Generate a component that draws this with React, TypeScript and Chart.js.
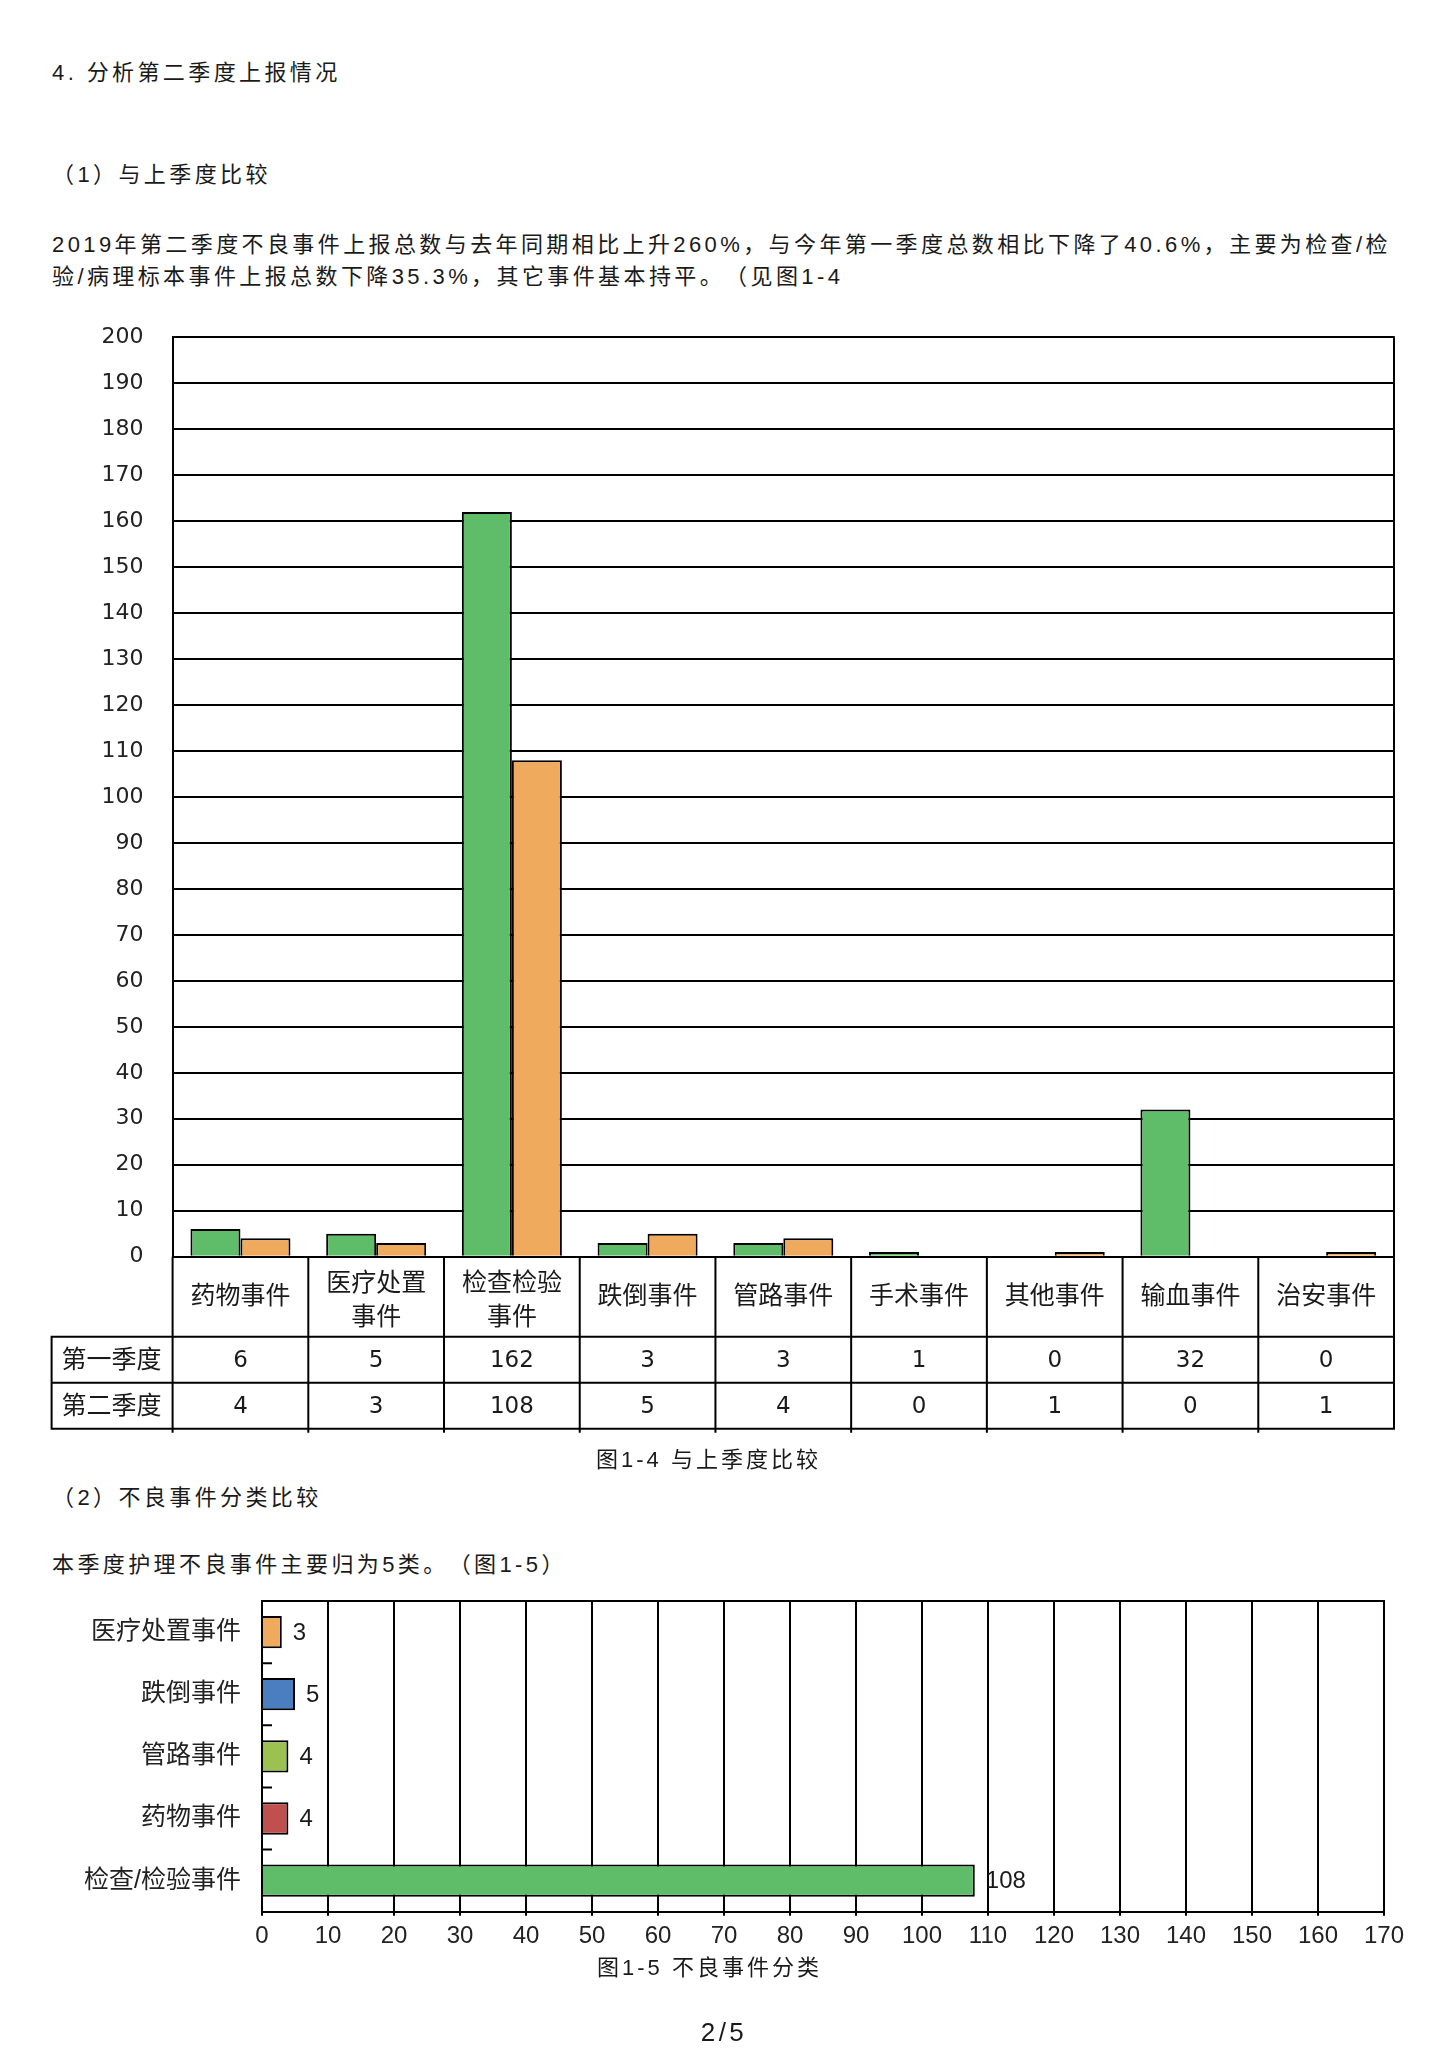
import React, { useEffect, useRef } from 'react';
import { Chart, registerables } from 'chart.js';

Chart.register(...registerables);

// ---------- data ----------
const categories = ['药物事件', '医疗处置事件', '检查检验事件', '跌倒事件', '管路事件', '手术事件', '其他事件', '输血事件', '治安事件'];
const seriesNames = ['第一季度', '第二季度'];
const q1Values = [6, 5, 162, 3, 3, 1, 0, 32, 0];
const q2Values = [4, 3, 108, 5, 4, 0, 1, 0, 1];
const seriesColors = ['#5FBD6A', '#F0AA5E'];
const yMin = 0;
const yMax = 200;
const yStep = 10;

const typeCategories = ['医疗处置事件', '跌倒事件', '管路事件', '药物事件', '检查/检验事件'];
const typeValues = [3, 5, 4, 4, 108];
const typeColors = ['#F0AA5E', '#4A7EC0', '#9BC150', '#C0504D', '#5FBD6A'];
const xMin = 0;
const xMax = 170;
const xStep = 10;

// ---------- style ----------
const FONT = '"Liberation Sans", "Noto Sans CJK SC", sans-serif';
const NUM_FONT = '"DejaVu Sans", "Noto Sans CJK SC", sans-serif';
const TEXT = '#1a1a1a';
const HEADER_H = 80;
const ROW_H = 46;
const ROW_LABEL_W = 121;

function wrapLabel(ctx: CanvasRenderingContext2D, text: string, maxW: number): string[] {
  const lines: string[] = [];
  let cur = '';
  for (const ch of Array.from(text)) {
    if (cur && ctx.measureText(cur + ch).width > maxW) {
      lines.push(cur);
      cur = ch;
    } else {
      cur += ch;
    }
  }
  if (cur) lines.push(cur);
  return lines;
}

const tablePlugin = {
  id: 'dataTable',
  afterDraw(chart: any) {
    const { ctx, chartArea: ca, scales } = chart;
    const xs = scales.x;
    const n = categories.length;
    const colW = (ca.right - ca.left) / n;
    const top = ca.bottom;
    const hdrB = top + HEADER_H;
    const r1B = hdrB + ROW_H;
    const r2B = r1B + ROW_H;
    const rowLeft = ca.left - ROW_LABEL_W;
    ctx.save();
    ctx.strokeStyle = '#000';
    ctx.lineWidth = 2;
    ctx.beginPath();
    for (let i = 0; i <= n; i++) {
      const xx = i < n ? xs.getPixelForValue(i) - colW / 2 : xs.getPixelForValue(n - 1) + colW / 2;
      ctx.moveTo(xx, i === n ? ca.top - 1 : top);
      ctx.lineTo(xx, r2B + (i < n ? 4 : 1));
    }
    ctx.moveTo(rowLeft, hdrB);
    ctx.lineTo(rowLeft, r2B + 1);
    for (const yy of [hdrB, r1B, r2B]) {
      ctx.moveTo(rowLeft - 1, yy);
      ctx.lineTo(ca.right + 1, yy);
    }
    ctx.stroke();

    ctx.fillStyle = TEXT;
    ctx.textBaseline = 'middle';
    categories.forEach((c, i) => {
      const cx = xs.getPixelForValue(i);
      ctx.font = `25px ${FONT}`;
      ctx.textAlign = 'center';
      const lines = wrapLabel(ctx, c, colW - 20);
      const lh = 34;
      const y0 = (top + hdrB) / 2 + (lines.length > 1 ? 4 : 0) - ((lines.length - 1) * lh) / 2;
      lines.forEach((ln, k) => ctx.fillText(ln, cx, y0 + k * lh));
      ctx.font = `23px ${NUM_FONT}`;
      ctx.fillText(String(q1Values[i]), cx, (hdrB + r1B) / 2 + 1);
      ctx.fillText(String(q2Values[i]), cx, (r1B + r2B) / 2 + 1);
    });
    ctx.font = `25px ${FONT}`;
    ctx.textAlign = 'left';
    ctx.fillText(seriesNames[0], rowLeft + 10, (hdrB + r1B) / 2 + 1);
    ctx.fillText(seriesNames[1], rowLeft + 10, (r1B + r2B) / 2 + 1);
    ctx.restore();
  },
};

const hbarPlugin = {
  id: 'hbarExtras',
  afterDraw(chart: any) {
    const { ctx, chartArea: ca, scales } = chart;
    const ys = scales.y;
    ctx.save();
    ctx.strokeStyle = '#000';
    ctx.lineWidth = 2;
    ctx.beginPath();
    ctx.moveTo(ca.left - 1, ca.top);
    ctx.lineTo(ca.right + 1, ca.top);
    for (let i = 0; i < typeCategories.length - 1; i++) {
      const yy = (ys.getPixelForValue(i) + ys.getPixelForValue(i + 1)) / 2;
      ctx.moveTo(ca.left, yy);
      ctx.lineTo(ca.left + 10, yy);
    }
    ctx.stroke();
    const meta = chart.getDatasetMeta(0);
    ctx.fillStyle = TEXT;
    ctx.font = `24px ${FONT}`;
    ctx.textAlign = 'left';
    ctx.textBaseline = 'middle';
    meta.data.forEach((el: any, i: number) => {
      ctx.fillText(String(typeValues[i]), el.x + 11, el.y + 1);
    });
    ctx.restore();
  },
};

function ComparisonChart() {
  const ref = useRef<HTMLCanvasElement | null>(null);
  useEffect(() => {
    if (!ref.current) return;
    const chart = new Chart(ref.current, {
      type: 'bar',
      data: {
        labels: categories,
        datasets: [
          { label: seriesNames[0], data: q1Values, backgroundColor: seriesColors[0], borderColor: '#000', borderWidth: 2, categoryPercentage: 0.737, barPercentage: 1 },
          { label: seriesNames[1], data: q2Values, backgroundColor: seriesColors[1], borderColor: '#000', borderWidth: 2, categoryPercentage: 0.737, barPercentage: 1 },
        ],
      },
      options: {
        responsive: false,
        animation: false,
        layout: { padding: { top: 22, right: 56, bottom: 203.3, left: 0 } },
        plugins: { legend: { display: false }, tooltip: { enabled: false } },
        scales: {
          x: { display: false },
          y: {
            min: yMin,
            max: yMax,
            ticks: { stepSize: yStep, padding: 29, color: '#222', font: { size: 22, family: NUM_FONT } },
            grid: { color: '#000', lineWidth: 2, drawTicks: false },
            border: { display: true, color: '#000', width: 2 },
            afterFit: (s: any) => { s.width = 172.6; },
          },
        },
      },
      plugins: [tablePlugin],
    } as any);
    return () => chart.destroy();
  }, []);
  return <canvas ref={ref} width={1450} height={1165} style={{ position: 'absolute', left: 0, top: 295 }} />;
}

function TypeChart() {
  const ref = useRef<HTMLCanvasElement | null>(null);
  useEffect(() => {
    if (!ref.current) return;
    const chart = new Chart(ref.current, {
      type: 'bar',
      data: {
        labels: typeCategories,
        datasets: [
          { data: typeValues, backgroundColor: typeColors, borderColor: '#000', borderWidth: 2, categoryPercentage: 0.52, barPercentage: 1 },
        ],
      },
      options: {
        indexAxis: 'y',
        responsive: false,
        animation: false,
        layout: { padding: { top: 14, right: 66, bottom: 18.3, left: 0 } },
        plugins: { legend: { display: false }, tooltip: { enabled: false } },
        scales: {
          x: {
            min: xMin,
            max: xMax,
            ticks: { stepSize: xStep, padding: 6, color: '#222', font: { size: 24, family: FONT } },
            grid: { color: '#000', lineWidth: 2, tickLength: 4, drawTicks: true },
            border: { display: true, color: '#000', width: 2 },
            afterFit: (s: any) => { s.height = 40; },
          },
          y: {
            grid: { display: false, drawTicks: false },
            border: { display: true, color: '#000', width: 2 },
            ticks: { padding: 21, color: '#222', font: { size: 25, family: FONT } },
            afterFit: (s: any) => { s.width = 262; },
          },
        },
      },
      plugins: [hbarPlugin],
    } as any);
    return () => chart.destroy();
  }, []);
  return <canvas ref={ref} width={1450} height={405} style={{ position: 'absolute', left: 0, top: 1565 }} />;
}

const textStyle: React.CSSProperties = {
  position: 'absolute',
  left: 52,
  fontSize: 22,
  lineHeight: '32px',
  letterSpacing: '3.4px',
  fontFamily: FONT,
  color: TEXT,
  whiteSpace: 'nowrap',
};

export default function App() {
  return (
    <div className="page" style={{ position: 'absolute', left: 0, top: 0, width: 1450, height: 2050, background: '#fff', overflow: 'hidden' }}>
      <style>{'.page, .page * { text-spacing-trim: space-all; }'}</style>
      <div style={{ ...textStyle, top: 57 }}>4. 分析第二季度上报情况</div>
      <div style={{ ...textStyle, top: 159 }}>（1）与上季度比较</div>
      <div style={{ ...textStyle, top: 229 }}>2019年第二季度不良事件上报总数与去年同期相比上升260%，与今年第一季度总数相比下降了40.6%，主要为检查/检</div>
      <div style={{ ...textStyle, top: 261 }}>验/病理标本事件上报总数下降35.3%，其它事件基本持平。（见图1-4</div>
      <ComparisonChart />
      <div style={{ ...textStyle, left: 596, top: 1444, letterSpacing: '3px' }}>图1-4 与上季度比较</div>
      <div style={{ ...textStyle, top: 1482 }}>（2）不良事件分类比较</div>
      <div style={{ ...textStyle, top: 1549 }}>本季度护理不良事件主要归为5类。（图1-5）</div>
      <TypeChart />
      <div style={{ ...textStyle, left: 597, top: 1952, letterSpacing: '3px' }}>图1-5 不良事件分类</div>
      <div style={{ ...textStyle, left: 624, width: 200, textAlign: 'center', top: 2016, fontSize: 26 }}>2/5</div>
    </div>
  );
}
